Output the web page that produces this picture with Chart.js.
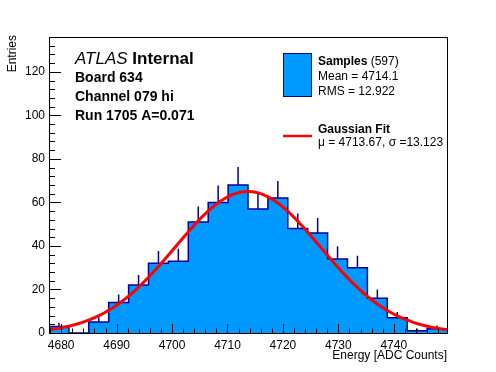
<!DOCTYPE html>
<html>
<head>
<meta charset="utf-8">
<script src="https://cdn.jsdelivr.net/npm/chart.js@4.4.1/dist/chart.umd.min.js"></script>
<style>
  body { margin: 0; background: #fff; }
  canvas { display: block; }
</style>
</head>
<body>
<canvas id="histo" width="496" height="372"></canvas>
<script>
// histogram: 20 bins, counts
const xMin = 4677.8;
const xMax = 4749.6;
const counts = [3, 0, 5, 14, 22, 32, 33, 51, 60, 68, 57, 62, 48, 46, 34, 30, 16, 7, 1, 2];
const xTicks = [4680, 4690, 4700, 4710, 4720, 4730, 4740];
const yTicks = [0, 20, 40, 60, 80, 100, 120];
const yMax = 136;

// gaussian fit as printed in the legend
const fitMu = 4713.67;
const fitSigma = 13.123;
const fitPeak = 65;

const FONT = '"Liberation Sans", Arial, Helvetica, sans-serif';
const FILL = '#0099ff';
const LINE = '#000099';

const binWidth = (xMax - xMin) / counts.length;

// step outline points at the low edge of each bin
const histPoints = counts.map((c, i) => ({ x: xMin + i * binWidth, y: c }));
histPoints.push({ x: xMax, y: counts[counts.length - 1] });

// upward error bars (sqrt N) at bin centres, broken up by nulls
const errPoints = [];
counts.forEach((c, i) => {
    if (c <= 0) return;
    const xc = xMin + (i + 0.5) * binWidth;
    errPoints.push({ x: xc, y: c }, { x: xc, y: c + Math.sqrt(c) }, { x: xc, y: null });
});

const fitPoints = [];
for (let x = xMin; x <= xMax + 1e-9; x += 0.25) {
    const z = (x - fitMu) / fitSigma;
    fitPoints.push({ x: x, y: fitPeak * Math.exp(-0.5 * z * z) });
}

// frame + inward ticks like a ROOT pad
const rootFrame = {
    id: 'rootFrame',
    afterDatasetsDraw(chart) {
        const { ctx, chartArea: a, scales } = chart;
        const xs = scales.x, ys = scales.y;
        ctx.save();
        ctx.strokeStyle = '#000';
        ctx.lineWidth = 1;
        ctx.beginPath();
        for (let v = 0; v <= yMax; v += 4) {
            const py = Math.round(ys.getPixelForValue(v)) + 0.5;
            const len = v % 20 === 0 ? 12 : 6;
            ctx.moveTo(a.left, py);
            ctx.lineTo(a.left + len, py);
        }
        for (let v = Math.ceil(xMin / 2) * 2; v <= xMax; v += 2) {
            const px = Math.round(xs.getPixelForValue(v)) + 0.5;
            const len = v % 10 === 0 ? 9 : 4.5;
            ctx.moveTo(px, a.bottom);
            ctx.lineTo(px, a.bottom - len);
        }
        ctx.stroke();
        ctx.strokeRect(Math.round(a.left) + 0.5, Math.round(a.top) + 0.5,
            Math.round(a.right - a.left), Math.round(a.bottom - a.top));
        ctx.restore();
    }
};

// titles, ATLAS label and the stats/fit box
const rootText = {
    id: 'rootText',
    afterDraw(chart) {
        const ctx = chart.ctx;
        const a = chart.chartArea;
        ctx.save();
        ctx.fillStyle = '#000';
        ctx.textBaseline = 'alphabetic';

        // axis titles
        ctx.font = '12px ' + FONT;
        ctx.textAlign = 'right';
        ctx.fillText('Energy [ADC Counts]', a.right, 359);
        ctx.save();
        ctx.translate(16, 35);
        ctx.rotate(-Math.PI / 2);
        ctx.fillText('Entries', 0, 0);
        ctx.restore();

        // ATLAS block
        ctx.textAlign = 'left';
        let x0 = 75;
        ctx.font = 'italic 17px ' + FONT;
        ctx.fillText('ATLAS', x0, 64);
        const w = ctx.measureText('ATLAS ').width;
        ctx.font = 'bold 17px ' + FONT;
        ctx.fillText('Internal', x0 + w, 64);
        ctx.font = 'bold 14px ' + FONT;
        ctx.fillText('Board 634', x0, 82);
        ctx.fillText('Channel 079 hi', x0, 101);
        ctx.fillText('Run 1705 A=0.071', x0, 120);

        // legend: samples
        ctx.fillStyle = FILL;
        ctx.fillRect(283.5, 53.5, 28, 43);
        ctx.strokeStyle = LINE;
        ctx.lineWidth = 1;
        ctx.strokeRect(283.5, 53.5, 28, 43);
        ctx.fillStyle = '#000';
        const tx = 318;
        ctx.font = 'bold 12px ' + FONT;
        ctx.fillText('Samples', tx, 65);
        const sw = ctx.measureText('Samples').width;
        ctx.font = '12px ' + FONT;
        ctx.fillText(' (597)', tx + sw, 65);
        ctx.fillText('Mean = 4714.1', tx, 80);
        ctx.fillText('RMS = 12.922', tx, 95);

        // legend: fit
        ctx.strokeStyle = '#ff0000';
        ctx.lineWidth = 2.5;
        ctx.beginPath();
        ctx.moveTo(283, 136);
        ctx.lineTo(312, 136);
        ctx.stroke();
        ctx.font = 'bold 12px ' + FONT;
        ctx.fillText('Gaussian Fit', tx, 133);
        ctx.font = '12px ' + FONT;
        ctx.fillText('\u03bc = 4713.67, \u03c3 =13.123', tx, 146);
        ctx.restore();
    }
};

new Chart(document.getElementById('histo'), {
    type: 'line',
    data: {
        datasets: [
            {
                label: 'Gaussian Fit',
                data: fitPoints,
                borderColor: '#ff0000',
                borderWidth: 3,
                pointRadius: 0,
                fill: false,
                order: 0
            },
            {
                label: 'errors',
                data: errPoints,
                borderColor: LINE,
                borderWidth: 1.5,
                pointRadius: 0,
                spanGaps: false,
                fill: false,
                order: 1
            },
            {
                label: 'Samples',
                data: histPoints,
                stepped: true,
                borderColor: LINE,
                borderWidth: 1.5,
                backgroundColor: FILL,
                pointRadius: 0,
                fill: 'origin',
                order: 2
            }
        ]
    },
    options: {
        responsive: false,
        animation: false,
        layout: { padding: { top: 37, right: 49, left: 0, bottom: 0 } },
        plugins: { legend: { display: false }, tooltip: { enabled: false } },
        scales: {
            x: {
                type: 'linear',
                min: xMin,
                max: xMax,
                grid: { display: false, drawTicks: false },
                border: { display: false },
                afterBuildTicks: (axis) => { axis.ticks = xTicks.map(v => ({ value: v })); },
                afterFit: (axis) => { axis.height = 39; },
                ticks: {
                    color: '#000',
                    padding: 5,
                    maxRotation: 0,
                    autoSkip: false,
                    font: { family: FONT, size: 12 },
                    callback: (v) => String(v)
                }
            },
            y: {
                type: 'linear',
                min: 0,
                max: yMax,
                grid: { display: false, drawTicks: false },
                border: { display: false },
                afterBuildTicks: (axis) => { axis.ticks = yTicks.map(v => ({ value: v })); },
                afterFit: (axis) => { axis.width = 49; },
                ticks: {
                    color: '#000',
                    padding: 4,
                    autoSkip: false,
                    font: { family: FONT, size: 12 },
                    callback: (v) => String(v)
                }
            }
        }
    },
    plugins: [rootFrame, rootText]
});
</script>
</body>
</html>
